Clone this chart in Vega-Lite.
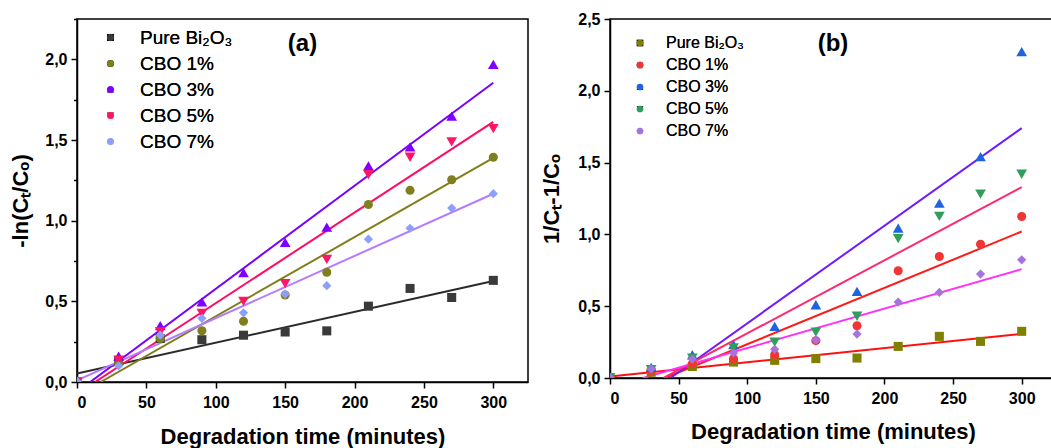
{
  "$schema": "https://vega.github.io/schema/vega-lite/v6.json",
  "padding": {"left": 9, "top": 10, "right": 0, "bottom": 0},
  "bounds": "flush",
  "spacing": 82,
  "background": "white",
  "config": {
    "font": "Liberation Sans",
    "view": {"stroke": "black", "strokeWidth": 1.5},
    "axis": {"domainColor": "black", "domainWidth": 1.5, "tickColor": "black", "tickWidth": 1.5, "labelFont": "Liberation Sans", "labelFontSize": 16, "labelFontWeight": "bold", "labelColor": "black", "titleFont": "Liberation Sans", "titleFontSize": 22, "titleFontWeight": "bold", "titleColor": "black", "grid": false}
  },
  "resolve": {"scale": {"color": "independent", "shape": "independent"}, "legend": {"color": "independent", "shape": "independent"}},
  "datasets": {
    "a_pts": [
      {"series": "Pure Bi₂O₃", "t": 0, "v": 0}, {"series": "Pure Bi₂O₃", "t": 30, "v": 0.13}, {"series": "Pure Bi₂O₃", "t": 60, "v": 0.27}, {"series": "Pure Bi₂O₃", "t": 90, "v": 0.262}, {"series": "Pure Bi₂O₃", "t": 120, "v": 0.29}, {"series": "Pure Bi₂O₃", "t": 150, "v": 0.31}, {"series": "Pure Bi₂O₃", "t": 180, "v": 0.317}, {"series": "Pure Bi₂O₃", "t": 210, "v": 0.47}, {"series": "Pure Bi₂O₃", "t": 240, "v": 0.58}, {"series": "Pure Bi₂O₃", "t": 270, "v": 0.524}, {"series": "Pure Bi₂O₃", "t": 300, "v": 0.63},
      {"series": "CBO 1%", "t": 0, "v": 0}, {"series": "CBO 1%", "t": 30, "v": 0.12}, {"series": "CBO 1%", "t": 60, "v": 0.27}, {"series": "CBO 1%", "t": 90, "v": 0.318}, {"series": "CBO 1%", "t": 120, "v": 0.377}, {"series": "CBO 1%", "t": 150, "v": 0.539}, {"series": "CBO 1%", "t": 180, "v": 0.68}, {"series": "CBO 1%", "t": 210, "v": 1.1}, {"series": "CBO 1%", "t": 240, "v": 1.188}, {"series": "CBO 1%", "t": 270, "v": 1.254}, {"series": "CBO 1%", "t": 300, "v": 1.393},
      {"series": "CBO 3%", "t": 0, "v": 0}, {"series": "CBO 3%", "t": 30, "v": 0.16}, {"series": "CBO 3%", "t": 60, "v": 0.35}, {"series": "CBO 3%", "t": 90, "v": 0.497}, {"series": "CBO 3%", "t": 120, "v": 0.678}, {"series": "CBO 3%", "t": 150, "v": 0.866}, {"series": "CBO 3%", "t": 180, "v": 0.96}, {"series": "CBO 3%", "t": 210, "v": 1.34}, {"series": "CBO 3%", "t": 240, "v": 1.457}, {"series": "CBO 3%", "t": 270, "v": 1.648}, {"series": "CBO 3%", "t": 300, "v": 1.969},
      {"series": "CBO 5%", "t": 0, "v": 0}, {"series": "CBO 5%", "t": 30, "v": 0.135}, {"series": "CBO 5%", "t": 60, "v": 0.31}, {"series": "CBO 5%", "t": 90, "v": 0.425}, {"series": "CBO 5%", "t": 120, "v": 0.5}, {"series": "CBO 5%", "t": 150, "v": 0.61}, {"series": "CBO 5%", "t": 180, "v": 0.76}, {"series": "CBO 5%", "t": 210, "v": 1.285}, {"series": "CBO 5%", "t": 240, "v": 1.393}, {"series": "CBO 5%", "t": 270, "v": 1.488}, {"series": "CBO 5%", "t": 300, "v": 1.571},
      {"series": "CBO 7%", "t": 0, "v": 0.005}, {"series": "CBO 7%", "t": 30, "v": 0.1}, {"series": "CBO 7%", "t": 60, "v": 0.29}, {"series": "CBO 7%", "t": 90, "v": 0.395}, {"series": "CBO 7%", "t": 120, "v": 0.429}, {"series": "CBO 7%", "t": 150, "v": 0.545}, {"series": "CBO 7%", "t": 180, "v": 0.597}, {"series": "CBO 7%", "t": 210, "v": 0.885}, {"series": "CBO 7%", "t": 240, "v": 0.953}, {"series": "CBO 7%", "t": 270, "v": 1.078}, {"series": "CBO 7%", "t": 300, "v": 1.167}
    ],
    "a_fit": [
      {"series": "Pure Bi₂O₃", "t": 0, "v": 0.052}, {"series": "Pure Bi₂O₃", "t": 300, "v": 0.626},
      {"series": "CBO 1%", "t": 17, "v": 0}, {"series": "CBO 1%", "t": 300, "v": 1.389},
      {"series": "CBO 3%", "t": 9.5, "v": 0}, {"series": "CBO 3%", "t": 300, "v": 1.855},
      {"series": "CBO 5%", "t": 13, "v": 0}, {"series": "CBO 5%", "t": 300, "v": 1.612},
      {"series": "CBO 7%", "t": 0, "v": 0.01}, {"series": "CBO 7%", "t": 300, "v": 1.167}
    ],
    "b_pts": [
      {"series": "Pure Bi₂O₃", "t": 0, "v": 0}, {"series": "Pure Bi₂O₃", "t": 30, "v": 0.04}, {"series": "Pure Bi₂O₃", "t": 60, "v": 0.08}, {"series": "Pure Bi₂O₃", "t": 90, "v": 0.111}, {"series": "Pure Bi₂O₃", "t": 120, "v": 0.123}, {"series": "Pure Bi₂O₃", "t": 150, "v": 0.135}, {"series": "Pure Bi₂O₃", "t": 180, "v": 0.139}, {"series": "Pure Bi₂O₃", "t": 210, "v": 0.22}, {"series": "Pure Bi₂O₃", "t": 240, "v": 0.29}, {"series": "Pure Bi₂O₃", "t": 270, "v": 0.255}, {"series": "Pure Bi₂O₃", "t": 300, "v": 0.325},
      {"series": "CBO 1%", "t": 0, "v": 0}, {"series": "CBO 1%", "t": 30, "v": 0.05}, {"series": "CBO 1%", "t": 60, "v": 0.1}, {"series": "CBO 1%", "t": 90, "v": 0.135}, {"series": "CBO 1%", "t": 120, "v": 0.162}, {"series": "CBO 1%", "t": 150, "v": 0.26}, {"series": "CBO 1%", "t": 180, "v": 0.364}, {"series": "CBO 1%", "t": 210, "v": 0.747}, {"series": "CBO 1%", "t": 240, "v": 0.846}, {"series": "CBO 1%", "t": 270, "v": 0.932}, {"series": "CBO 1%", "t": 300, "v": 1.125},
      {"series": "CBO 3%", "t": 0, "v": 0}, {"series": "CBO 3%", "t": 30, "v": 0.074}, {"series": "CBO 3%", "t": 60, "v": 0.162}, {"series": "CBO 3%", "t": 90, "v": 0.232}, {"series": "CBO 3%", "t": 120, "v": 0.36}, {"series": "CBO 3%", "t": 150, "v": 0.51}, {"series": "CBO 3%", "t": 180, "v": 0.603}, {"series": "CBO 3%", "t": 210, "v": 1.044}, {"series": "CBO 3%", "t": 240, "v": 1.218}, {"series": "CBO 3%", "t": 270, "v": 1.542}, {"series": "CBO 3%", "t": 300, "v": 2.273},
      {"series": "CBO 5%", "t": 0, "v": 0}, {"series": "CBO 5%", "t": 30, "v": 0.058}, {"series": "CBO 5%", "t": 60, "v": 0.139}, {"series": "CBO 5%", "t": 90, "v": 0.21}, {"series": "CBO 5%", "t": 120, "v": 0.25}, {"series": "CBO 5%", "t": 150, "v": 0.32}, {"series": "CBO 5%", "t": 180, "v": 0.43}, {"series": "CBO 5%", "t": 210, "v": 0.97}, {"series": "CBO 5%", "t": 240, "v": 1.125}, {"series": "CBO 5%", "t": 270, "v": 1.28}, {"series": "CBO 5%", "t": 300, "v": 1.419},
      {"series": "CBO 7%", "t": 0, "v": 0.005}, {"series": "CBO 7%", "t": 30, "v": 0.063}, {"series": "CBO 7%", "t": 60, "v": 0.132}, {"series": "CBO 7%", "t": 90, "v": 0.174}, {"series": "CBO 7%", "t": 120, "v": 0.2}, {"series": "CBO 7%", "t": 150, "v": 0.264}, {"series": "CBO 7%", "t": 180, "v": 0.306}, {"series": "CBO 7%", "t": 210, "v": 0.529}, {"series": "CBO 7%", "t": 240, "v": 0.596}, {"series": "CBO 7%", "t": 270, "v": 0.724}, {"series": "CBO 7%", "t": 300, "v": 0.823}
    ],
    "b_fit": [
      {"series": "Pure Bi₂O₃", "t": 0, "v": 0.01}, {"series": "Pure Bi₂O₃", "t": 300, "v": 0.308},
      {"series": "CBO 1%", "t": 40, "v": 0}, {"series": "CBO 1%", "t": 300, "v": 1.02},
      {"series": "CBO 3%", "t": 44, "v": 0}, {"series": "CBO 3%", "t": 300, "v": 1.74},
      {"series": "CBO 5%", "t": 39, "v": 0}, {"series": "CBO 5%", "t": 300, "v": 1.329},
      {"series": "CBO 7%", "t": 24, "v": 0}, {"series": "CBO 7%", "t": 300, "v": 0.758}
    ]
  },
  "hconcat": [
    {
      "width": 451,
      "height": 363,
      "title": {"text": "(a)", "anchor": "middle", "frame": "group", "orient": "top", "offset": -50, "baseline": "middle", "fontSize": 24, "fontWeight": "bold", "font": "Liberation Sans", "color": "black"},
      "resolve": {"scale": {"color": "independent"}},
      "layer": [
        {
          "data": {"name": "a_fit"},
          "mark": {"type": "line", "strokeWidth": 2, "clip": true},
          "encoding": {
            "x": {"field": "t", "type": "quantitative", "scale": {"domain": [0, 325], "nice": false, "zero": false},
              "axis": {"title": "Degradation time (minutes)", "values": [0, 25, 50, 75, 100, 125, 150, 175, 200, 225, 250, 275, 300, 325], "labelExpr": "datum.value % 50 == 0 ? datum.label : ''", "tickSize": {"condition": {"test": "datum.value % 50 == 0", "value": 6}, "value": 3.5}, "labelPadding": 6, "titlePadding": 16}},
            "y": {"field": "v", "type": "quantitative", "scale": {"domain": [0, 2.25], "nice": false},
              "axis": {"title": "-ln(Cₜ/Cₒ)", "values": [0, 0.25, 0.5, 0.75, 1, 1.25, 1.5, 1.75, 2, 2.25], "labelExpr": "round(datum.value*4) % 2 == 0 ? replace(format(datum.value, '.1f'), '.', ',') : ''", "tickSize": {"condition": {"test": "round(datum.value*4) % 2 == 0", "value": 6}, "value": 3.5}, "labelPadding": 4, "titlePadding": 12}},
            "color": {"field": "series", "type": "nominal", "legend": null,
              "scale": {"domain": ["Pure Bi₂O₃", "CBO 1%", "CBO 3%", "CBO 5%", "CBO 7%"], "range": ["#2b2b2b", "#7f7f1a", "#7800ff", "#ff0a64", "#b57bff"]}}
          }
        },
        {
          "data": {"name": "a_pts"},
          "transform": [{"filter": {"field": "series", "oneOf": ["Pure Bi₂O₃", "CBO 1%"]}}],
          "mark": {"type": "point", "filled": true, "opacity": 1, "size": 82, "clip": true},
          "encoding": {
            "x": {"field": "t", "type": "quantitative"},
            "y": {"field": "v", "type": "quantitative"},
            "color": {"field": "series", "type": "nominal",
              "scale": {"domain": ["Pure Bi₂O₃", "CBO 1%", "CBO 3%", "CBO 5%", "CBO 7%"], "range": ["#3a3a3a", "#7f7f1f", "#7f00ff", "#ff1466", "#8c9fff"]},
              "legend": {"orient": "none", "legendX": 24, "legendY": 9, "title": null, "padding": 0, "labelFont": "Liberation Sans", "labelFontSize": 19, "labelColor": "black", "labelOffset": 20, "rowPadding": 6, "symbolSize": 50, "labelLimit": 0}},
            "shape": {"field": "series", "type": "nominal",
              "scale": {"domain": ["Pure Bi₂O₃", "CBO 1%", "CBO 3%", "CBO 5%", "CBO 7%"], "range": ["square", "circle", "triangle-up", "triangle-down", "diamond"]},
              "legend": {"orient": "none", "legendX": 24, "legendY": 9, "title": null, "padding": 0, "labelFont": "Liberation Sans", "labelFontSize": 19, "labelColor": "black", "labelOffset": 20, "rowPadding": 6, "symbolSize": 50, "labelLimit": 0}}
          }
        },
        {
          "data": {"name": "a_pts"},
          "transform": [{"filter": {"field": "series", "oneOf": ["CBO 3%", "CBO 5%"]}}],
          "mark": {"type": "point", "filled": true, "opacity": 1, "size": 115, "clip": true},
          "encoding": {
            "x": {"field": "t", "type": "quantitative"},
            "y": {"field": "v", "type": "quantitative"},
            "color": {"field": "series", "type": "nominal", "legend": null,
              "scale": {"domain": ["Pure Bi₂O₃", "CBO 1%", "CBO 3%", "CBO 5%", "CBO 7%"], "range": ["#3a3a3a", "#7f7f1f", "#7f00ff", "#ff1466", "#8c9fff"]}},
            "shape": {"field": "series", "type": "nominal", "legend": null}
          }
        },
        {
          "data": {"name": "a_pts"},
          "transform": [{"filter": {"field": "series", "equal": "CBO 7%"}}],
          "mark": {"type": "point", "filled": true, "opacity": 1, "size": 85, "clip": true},
          "encoding": {
            "x": {"field": "t", "type": "quantitative"},
            "y": {"field": "v", "type": "quantitative"},
            "color": {"field": "series", "type": "nominal", "legend": null,
              "scale": {"domain": ["Pure Bi₂O₃", "CBO 1%", "CBO 3%", "CBO 5%", "CBO 7%"], "range": ["#3a3a3a", "#7f7f1f", "#7f00ff", "#ff1466", "#8c9fff"]}},
            "shape": {"field": "series", "type": "nominal", "legend": null}
          }
        }
      ]
    },
    {
      "width": 446,
      "height": 359,
      "title": {"text": "(b)", "anchor": "middle", "frame": "group", "orient": "top", "offset": -57, "baseline": "middle", "fontSize": 24, "fontWeight": "bold", "font": "Liberation Sans", "color": "black"},
      "resolve": {"scale": {"color": "independent"}},
      "layer": [
        {
          "data": {"name": "b_fit"},
          "mark": {"type": "line", "strokeWidth": 2, "clip": true},
          "encoding": {
            "x": {"field": "t", "type": "quantitative", "scale": {"domain": [0, 325], "nice": false, "zero": false},
              "axis": {"title": "Degradation time (minutes)", "values": [0, 25, 50, 75, 100, 125, 150, 175, 200, 225, 250, 275, 300, 325], "labelExpr": "datum.value % 50 == 0 ? datum.label : ''", "tickSize": {"condition": {"test": "datum.value % 50 == 0", "value": 6}, "value": 3.5}, "labelPadding": 6, "titlePadding": 15}},
            "y": {"field": "v", "type": "quantitative", "scale": {"domain": [0, 2.5], "nice": false},
              "axis": {"title": "1/Cₜ-1/Cₒ", "values": [0, 0.25, 0.5, 0.75, 1, 1.25, 1.5, 1.75, 2, 2.25, 2.5], "labelExpr": "round(datum.value*4) % 2 == 0 ? replace(format(datum.value, '.1f'), '.', ',') : ''", "tickSize": {"condition": {"test": "round(datum.value*4) % 2 == 0", "value": 6}, "value": 3.5}, "labelPadding": 4, "titlePadding": 14}},
            "color": {"field": "series", "type": "nominal", "legend": null,
              "scale": {"domain": ["Pure Bi₂O₃", "CBO 1%", "CBO 3%", "CBO 5%", "CBO 7%"], "range": ["#ff1010", "#ff1a1a", "#6e1cff", "#ff2a6e", "#ff30ff"]}}
          }
        },
        {
          "data": {"name": "b_pts"},
          "transform": [{"filter": {"field": "series", "oneOf": ["Pure Bi₂O₃", "CBO 1%"]}}],
          "mark": {"type": "point", "filled": true, "opacity": 1, "size": 82, "clip": true},
          "encoding": {
            "x": {"field": "t", "type": "quantitative"},
            "y": {"field": "v", "type": "quantitative"},
            "color": {"field": "series", "type": "nominal",
              "scale": {"domain": ["Pure Bi₂O₃", "CBO 1%", "CBO 3%", "CBO 5%", "CBO 7%"], "range": ["#808000", "#f03535", "#1f63e0", "#2e9e5a", "#a772e0"]},
              "legend": {"orient": "none", "legendX": 22, "legendY": 16, "title": null, "padding": 0, "labelFont": "Liberation Sans", "labelFontSize": 16, "labelColor": "black", "labelOffset": 18, "rowPadding": 6, "symbolSize": 45, "labelLimit": 0}},
            "shape": {"field": "series", "type": "nominal",
              "scale": {"domain": ["Pure Bi₂O₃", "CBO 1%", "CBO 3%", "CBO 5%", "CBO 7%"], "range": ["square", "circle", "triangle-up", "triangle-down", "diamond"]},
              "legend": {"orient": "none", "legendX": 22, "legendY": 16, "title": null, "padding": 0, "labelFont": "Liberation Sans", "labelFontSize": 16, "labelColor": "black", "labelOffset": 18, "rowPadding": 6, "symbolSize": 45, "labelLimit": 0}}
          }
        },
        {
          "data": {"name": "b_pts"},
          "transform": [{"filter": {"field": "series", "oneOf": ["CBO 3%", "CBO 5%"]}}],
          "mark": {"type": "point", "filled": true, "opacity": 1, "size": 115, "clip": true},
          "encoding": {
            "x": {"field": "t", "type": "quantitative"},
            "y": {"field": "v", "type": "quantitative"},
            "color": {"field": "series", "type": "nominal", "legend": null,
              "scale": {"domain": ["Pure Bi₂O₃", "CBO 1%", "CBO 3%", "CBO 5%", "CBO 7%"], "range": ["#808000", "#f03535", "#1f63e0", "#2e9e5a", "#a772e0"]}},
            "shape": {"field": "series", "type": "nominal", "legend": null}
          }
        },
        {
          "data": {"name": "b_pts"},
          "transform": [{"filter": {"field": "series", "equal": "CBO 7%"}}],
          "mark": {"type": "point", "filled": true, "opacity": 1, "size": 85, "clip": true},
          "encoding": {
            "x": {"field": "t", "type": "quantitative"},
            "y": {"field": "v", "type": "quantitative"},
            "color": {"field": "series", "type": "nominal", "legend": null,
              "scale": {"domain": ["Pure Bi₂O₃", "CBO 1%", "CBO 3%", "CBO 5%", "CBO 7%"], "range": ["#808000", "#f03535", "#1f63e0", "#2e9e5a", "#a772e0"]}},
            "shape": {"field": "series", "type": "nominal", "legend": null}
          }
        }
      ]
    }
  ]
}
